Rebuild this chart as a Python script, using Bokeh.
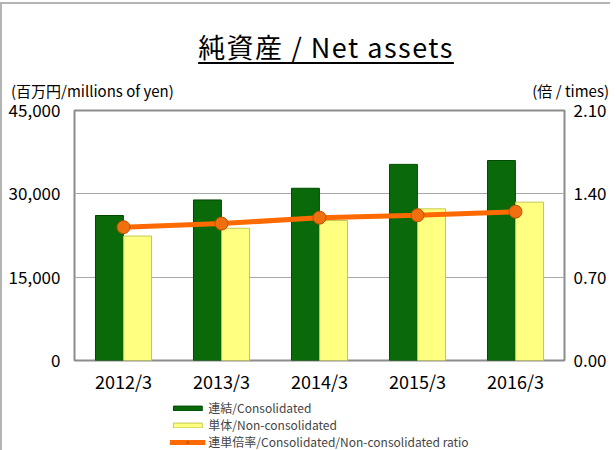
from bokeh.plotting import figure
from bokeh.models import (Range1d, LinearAxis, FixedTicker, NumeralTickFormatter,
                          Legend, LegendItem, Div, ColumnDataSource, FactorRange)
from bokeh.transform import dodge
from bokeh.layouts import column
from bokeh.embed import file_html
from bokeh.resources import INLINE

# ---- data ----
years = ["2012/3", "2013/3", "2014/3", "2015/3", "2016/3"]
consolidated = [26100, 28900, 31000, 35300, 36000]
non_consolidated = [22400, 23800, 25200, 27300, 28500]
ratio = [1.12, 1.15, 1.20, 1.22, 1.25]
left_ticks = [0, 15000, 30000, 45000]
right_ticks = [0.0, 0.7, 1.4, 2.1]

title_text = "純資産 / Net assets"
left_unit = "(百万円/millions of yen)"
right_unit = "(倍 / times)"
label_con = "連結/Consolidated"
label_non = "単体/Non-consolidated"
label_ratio = "連単倍率/Consolidated/Non-consolidated ratio"

FONT = "Noto Sans CJK JP"
GREEN, GREEN_EDGE = "#0a6a0a", "#004a00"
YELLOW, YELLOW_EDGE = "#ffff80", "#c8c850"
ORANGE, ORANGE_EDGE, DOT = "#ff6a00", "#c05000", "#f07010"

src = ColumnDataSource(dict(year=years, con=consolidated, non=non_consolidated, ratio=ratio))


def add_series(fig, y_ratio_range):
    g = fig.vbar(x=dodge("year", -0.1435, range=fig.x_range), top="con", width=0.285, source=src,
                 fill_color=GREEN, line_color=GREEN_EDGE, line_width=1)
    y = fig.vbar(x=dodge("year", 0.1435, range=fig.x_range), top="non", width=0.285, source=src,
                 fill_color=YELLOW, line_color=YELLOW_EDGE, line_width=1)
    l = fig.line(x="year", y="ratio", source=src, y_range_name=y_ratio_range,
                 line_color=ORANGE, line_width=5)
    s = fig.scatter(x="year", y="ratio", source=src, y_range_name=y_ratio_range, size=13,
                    fill_color=DOT, line_color=ORANGE_EDGE, line_width=1)
    return g, y, l, s


p = figure(x_range=FactorRange(*years), y_range=Range1d(0, 45000),
           frame_width=490, frame_height=250, output_backend="svg", toolbar_location=None,
           min_border_left=72, min_border_right=36, min_border_top=8, min_border_bottom=28)
p.background_fill_color = "white"
p.border_fill_color = "white"
p.outline_line_color = "#8c8c8c"
p.outline_line_width = 2

p.yaxis.ticker = FixedTicker(ticks=left_ticks)
p.yaxis.formatter = NumeralTickFormatter(format="0,0")

p.extra_y_ranges = {"ratio": Range1d(0, 2.1)}
right = LinearAxis(y_range_name="ratio", ticker=FixedTicker(ticks=right_ticks),
                   formatter=NumeralTickFormatter(format="0.00"))
p.add_layout(right, "right")

for ax in [p.xaxis[0], p.yaxis[0], right]:
    ax.axis_line_color = None
    ax.major_tick_line_color = None
    ax.minor_tick_line_color = None
    ax.major_label_text_font = FONT
    ax.major_label_text_font_size = "17px"
    ax.major_label_text_color = "black"
p.yaxis[0].major_label_standoff = 8
right.major_label_standoff = 3
p.xaxis.major_label_standoff = 1
p.xaxis.major_label_text_font_size = "18px"

p.xgrid.visible = False
p.ygrid.ticker = FixedTicker(ticks=left_ticks)
p.ygrid.grid_line_color = "#a8a8a8"
p.ygrid.grid_line_width = 1

add_series(p, "ratio")

# ---- legend strip: same series, ranges set far above the data so only the keys show ----
lf = figure(frame_width=490, frame_height=54, x_range=FactorRange(*years),
            y_range=Range1d(1e6, 2e6), output_backend="svg", toolbar_location=None,
            x_axis_location=None, y_axis_location=None,
            min_border_left=72, min_border_right=36, min_border_top=0, min_border_bottom=0)
lf.extra_y_ranges = {"ratio": Range1d(100, 200)}
lf.outline_line_color = None
lf.xgrid.visible = False
lf.ygrid.visible = False
kg, ky, kl, ks = add_series(lf, "ratio")
ks.glyph.size = 11

legend = Legend(items=[LegendItem(label=label_con, renderers=[kg]),
                       LegendItem(label=label_non, renderers=[ky]),
                       LegendItem(label=label_ratio, renderers=[kl, ks])],
                location="top_center", orientation="vertical")
legend.label_text_font = FONT
legend.label_text_font_size = "12px"
legend.label_height = 16
legend.glyph_height = 6
legend.glyph_width = 36
legend.label_standoff = 3
legend.spacing = 0
legend.padding = 0
legend.margin = 3
legend.border_line_color = None
legend.background_fill_alpha = 0
lf.add_layout(legend, "center")

header_html = (
    f'<div style="position:relative;width:598px;height:88px;font-family:\'{FONT}\';color:black;">'
    f'<div style="position:absolute;left:319px;top:24px;transform:translateX(-50%);'
    f'white-space:nowrap;font-size:27px;line-height:1;letter-spacing:1.5px;'
    f'text-decoration:underline;text-decoration-thickness:2px;text-underline-offset:4px;">{title_text}</div>'
    f'<div style="position:absolute;left:4px;top:74px;white-space:nowrap;font-size:15px;line-height:1;">{left_unit}</div>'
    f'<div style="position:absolute;right:-4px;top:74px;white-space:nowrap;font-size:15px;line-height:1;">{right_unit}</div>'
    f'</div>'
)
header = Div(text=header_html, width=598, height=88)

layout = column(header, p, lf, styles={"border-left": "2px solid #b4b4b4",
                                       "border-top": "2px solid #b4b4b4",
                                       "margin-top": "2px"})

open("out.html", "w").write(file_html(layout, INLINE))
